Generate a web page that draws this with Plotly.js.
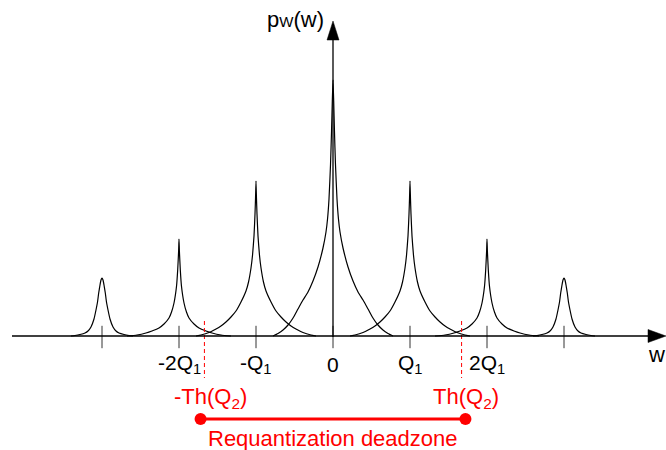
<!DOCTYPE html>
<html>
<head>
<meta charset="utf-8">
<script src="https://cdn.plot.ly/plotly-3.0.1.min.js"></script>
<style>html,body{margin:0;padding:0;background:#fff;}#chart{width:666px;height:450px;}</style>
</head>
<body>
<div id="chart"></div>
<script>
// ---- data (w in units of Q1, p in arbitrary density units) ----
const wPeak0 = [-0.779,-0.714,-0.649,-0.584,-0.519,-0.455,-0.390,-0.325,-0.260,-0.195,-0.130,-0.091,-0.071,-0.052,-0.032,-0.019,-0.009,0,0.009,0.019,0.032,0.052,0.071,0.091,0.130,0.195,0.260,0.325,0.390,0.455,0.519,0.584,0.649,0.714,0.779];
const pPeak0 = [0,2.5,6,11,18,27,36,44,55,69,88,104,117,137,172,205,235,256,235,205,172,137,117,104,88,69,55,44,36,27,18,11,6,2.5,0];

const wPeakP1 = [0.221,0.286,0.390,0.481,0.545,0.610,0.675,0.740,0.805,0.870,0.903,0.935,0.955,0.974,0.987,0.994,1,1.006,1.013,1.026,1.045,1.065,1.097,1.130,1.195,1.260,1.325,1.390,1.455,1.519,1.610,1.714,1.779];
const pPeakP1 = [0,1,3.5,7,10,14,19,25,34,45,54,68,81,100,122,138,155,138,122,100,81,68,54,45,34,25,19,14,10,7,3.5,1,0];

const wPeakM1 = [-1.779,-1.714,-1.610,-1.519,-1.455,-1.390,-1.325,-1.260,-1.195,-1.130,-1.097,-1.065,-1.045,-1.026,-1.013,-1.006,-1,-0.994,-0.987,-0.974,-0.955,-0.935,-0.903,-0.870,-0.805,-0.740,-0.675,-0.610,-0.545,-0.481,-0.390,-0.286,-0.221];
const pPeakM1 = [0,1,3.5,7,10,14,19,25,34,45,54,68,81,100,122,138,155,138,122,100,81,68,54,45,34,25,19,14,10,7,3.5,1,0];

const wPeakP2 = [1.325,1.455,1.571,1.649,1.740,1.805,1.870,1.903,1.935,1.968,1.983,1.995,2,2.005,2.017,2.032,2.065,2.097,2.130,2.195,2.260,2.351,2.429,2.545,2.675];
const pPeakP2 = [0,1,3,5,8,12,18,24,33,50,66,85,97,85,66,50,33,24,18,12,8,5,3,1,0];

const wPeakM2 = [-2.675,-2.545,-2.429,-2.351,-2.260,-2.195,-2.130,-2.097,-2.065,-2.032,-2.017,-2.005,-2,-1.995,-1.983,-1.968,-1.935,-1.903,-1.870,-1.805,-1.740,-1.649,-1.571,-1.455,-1.325];
const pPeakM2 = [0,1,3,5,8,12,18,24,33,50,66,85,97,85,66,50,33,24,18,12,8,5,3,1,0];

const wPeakP3 = [2.597,2.649,2.714,2.779,2.818,2.857,2.896,2.922,2.942,2.957,2.974,2.987,3,3.013,3.026,3.043,3.058,3.078,3.104,3.143,3.182,3.221,3.286,3.351,3.403];
const pPeakP3 = [0,0.5,1.5,3,5,9,17,26,34,43,51,56,58,56,51,43,34,26,17,9,5,3,1.5,0.5,0];

const wPeakM3 = [-3.403,-3.351,-3.286,-3.221,-3.182,-3.143,-3.104,-3.078,-3.058,-3.043,-3.026,-3.013,-3,-2.987,-2.974,-2.957,-2.942,-2.922,-2.896,-2.857,-2.818,-2.779,-2.714,-2.649,-2.597];
const pPeakM3 = [0,0.5,1.5,3,5,9,17,26,34,43,51,56,58,56,51,43,34,26,17,9,5,3,1.5,0.5,0];

const tickValues = [-3,-2,-1,0,1,2,3];
const tickLabels = ['', '-2Q<sub>1</sub>', '-Q<sub>1</sub>', '0', 'Q<sub>1</sub>', '2Q<sub>1</sub>', ''];
const thresholds = [-1.67, 1.67];
const thresholdLabels = ['-Th(Q<sub>2</sub>)', 'Th(Q<sub>2</sub>)'];
const deadzone = [-1.72, 1.72];
const deadzoneLabel = 'Requantization deadzone';
const yAxisLabel = 'p<span style="font-size:15px">W</span>(w)';
const xAxisLabel = 'w';

// ---- figure ----
const FONT = 'Liberation Sans, Arial, sans-serif';
const RED = '#ff0000';
const W = 666, H = 450;
const px = v => v / W;          // pixel -> paper x
const py = v => 1 - v / H;      // pixel -> paper y

const peaks = [
  [wPeakM3, pPeakM3], [wPeakM2, pPeakM2], [wPeakM1, pPeakM1], [wPeak0, pPeak0],
  [wPeakP1, pPeakP1], [wPeakP2, pPeakP2], [wPeakP3, pPeakP3]
];
const traces = peaks.map(([w, p]) => ({
  x: w, y: p, mode: 'lines', type: 'scatter', hoverinfo: 'skip',
  line: {color: '#000', width: 1.2, shape: 'spline', smoothing: 0.5}
}));

// tick marks on the w axis
traces.push({
  x: tickValues, y: tickValues.map(() => -1), mode: 'markers', type: 'scatter', hoverinfo: 'skip',
  marker: {symbol: 'line-ns', size: 16, color: '#000', line: {color: '#333', width: 1}}
});

// threshold dashed lines
thresholds.forEach(t => traces.push({
  x: [t, t], y: [15, -42], mode: 'lines', type: 'scatter', hoverinfo: 'skip',
  line: {color: RED, width: 1, dash: '4px,3px'}
}));

// deadzone bar
traces.push({
  x: deadzone, y: [-83, -83], mode: 'lines+markers', type: 'scatter', hoverinfo: 'skip',
  line: {color: RED, width: 3}, marker: {color: RED, size: 12}
});

const annotations = [];
tickValues.forEach((v, i) => {
  if (!tickLabels[i]) return;
  annotations.push({x: v, y: -28, xref: 'x', yref: 'y', text: tickLabels[i], showarrow: false,
    xanchor: 'center', yanchor: 'middle', font: {family: FONT, size: 21, color: '#000'}});
});
thresholds.forEach((t, i) => {
  annotations.push({x: t, y: -62, xref: 'x', yref: 'y', text: thresholdLabels[i], showarrow: false,
    xanchor: 'center', yanchor: 'middle', xshift: i === 0 ? 6 : 4,
    font: {family: FONT, size: 22, color: RED}});
});
annotations.push({x: (deadzone[0] + deadzone[1]) / 2, y: -102, xref: 'x', yref: 'y', text: deadzoneLabel,
  showarrow: false, xanchor: 'center', yanchor: 'middle', font: {family: FONT, size: 22, color: RED}});
annotations.push({x: px(326), y: py(20), xref: 'paper', yref: 'paper', text: yAxisLabel, showarrow: false,
  xanchor: 'right', yanchor: 'middle', font: {family: FONT, size: 22, color: '#000'}});
annotations.push({x: px(646), y: py(354), xref: 'paper', yref: 'paper', text: xAxisLabel, showarrow: false,
  xanchor: 'left', yanchor: 'middle', font: {family: FONT, size: 22, color: '#000'}});

const shapes = [
  // horizontal w axis
  {type: 'line', xref: 'paper', yref: 'y', x0: px(12), x1: px(650), y0: 0, y1: 0, line: {color: '#000', width: 1.3}},
  {type: 'path', xref: 'paper', yref: 'y', path: `M ${px(648)} 6.5 L ${px(666)} 0 L ${px(648)} -6.5 Z`, fillcolor: '#000', line: {color: '#000', width: 0.5}},
  // vertical p axis
  {type: 'line', xref: 'x', yref: 'paper', x0: 0, x1: 0, y0: py(337), y1: py(38), line: {color: '#000', width: 1.3}},
  {type: 'path', xref: 'paper', yref: 'paper', path: `M ${px(327)} ${py(40)} L ${px(333)} ${py(21)} L ${px(339)} ${py(40)} Z`, fillcolor: '#000', line: {color: '#000', width: 0.5}}
];

const layout = {
  width: W, height: H, margin: {l: 0, r: 0, t: 0, b: 0},
  paper_bgcolor: '#fff', plot_bgcolor: '#fff', showlegend: false,
  xaxis: {range: [-333 / 77, 333 / 77], visible: false, fixedrange: true},
  yaxis: {range: [-114, 336], visible: false, fixedrange: true},
  annotations, shapes
};

Plotly.newPlot('chart', traces, layout, {staticPlot: true, displayModeBar: false});
</script>
</body>
</html>
